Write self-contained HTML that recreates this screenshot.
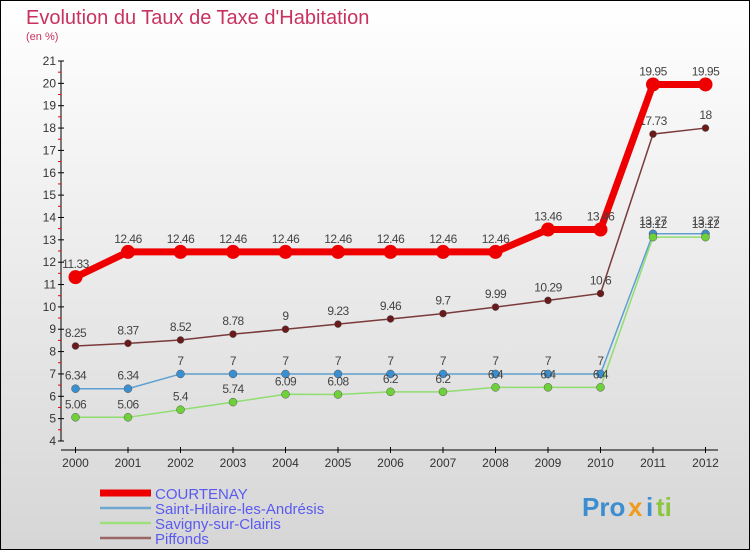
<!DOCTYPE html>
<html><head><meta charset="utf-8"><style>
body{margin:0;width:750px;height:550px;overflow:hidden;font-family:"Liberation Sans",sans-serif}
svg{display:block}
</style></head><body>
<svg id="c" width="750" height="550" xmlns="http://www.w3.org/2000/svg">
<defs><linearGradient id="bg" x1="0" y1="0" x2="0" y2="1"><stop offset="0" stop-color="#ffffff"/><stop offset="1" stop-color="#d6d6d6"/></linearGradient></defs>
<rect x="0.5" y="0.5" width="749" height="549" fill="url(#bg)" stroke="#000"/>
<text x="26" y="24" font-size="20" fill="#c8325f">Evolution du Taux de Taxe d'Habitation</text>
<text x="26" y="40" font-size="11" fill="#c8325f">(en %)</text>
<g id="axes"></g><g id="series"></g><g id="legend"></g>
<g font-size="26" font-weight="bold">
<text x="582" y="516" fill="#3d8ed0">Pro</text><text x="628" y="516" fill="#f09a1e">x</text><text x="646" y="516" fill="#3d8ed0">i</text><text x="656" y="516" fill="#8cc63f">ti</text></g>
</svg>
<script>
const years=[2000,2001,2002,2003,2004,2005,2006,2007,2008,2009,2010,2011,2012];
const yTicks=[4,5,6,7,8,9,10,11,12,13,14,15,16,17,18,19,20,21];
const courtenay=[11.33,12.46,12.46,12.46,12.46,12.46,12.46,12.46,12.46,13.46,13.46,19.95,19.95];
const saintHilaire=[6.34,6.34,7,7,7,7,7,7,7,7,7,13.27,13.27];
const savigny=[5.06,5.06,5.4,5.74,6.09,6.08,6.2,6.2,6.4,6.4,6.4,13.12,13.12];
const piffonds=[8.25,8.37,8.52,8.78,9,9.23,9.46,9.7,9.99,10.29,10.6,17.73,18];
const seriesNames=["COURTENAY","Saint-Hilaire-les-Andrésis","Savigny-sur-Clairis","Piffonds"];
const NS="http://www.w3.org/2000/svg";
const xS=i=>75.5+i*52.5;
const yS=v=>441-(v-4)*(380/17);
function mk(p,t,a){const e=document.createElementNS(NS,t);for(const k in a)e.setAttribute(k,a[k]);p.appendChild(e);return e;}
const ax=document.getElementById('axes');
let l=mk(ax,'line',{x1:61,y1:yS(21),x2:61,y2:yS(4),stroke:'#000'});


l=mk(ax,'line',{x1:61,y1:450,x2:718,y2:450,stroke:'#000'});


yTicks.forEach(v=>{const y=yS(v);
mk(ax,'line',{x1:58,y1:y,x2:64,y2:y,stroke:'#000'});
if(v<21)mk(ax,'line',{x1:58,y1:y-11.2,x2:61,y2:y-11.2,stroke:'#e00'});
const t=mk(ax,'text',{x:56,y:y+4,'font-size':12,'text-anchor':'end',fill:'#333'});t.textContent=v;

});
years.forEach((yr,i)=>{const x=xS(i);mk(ax,'line',{x1:x,y1:447,x2:x,y2:453,stroke:'#000'});
const t=mk(ax,'text',{x:x,y:467,'font-size':12,'text-anchor':'middle',fill:'#333'});t.textContent=yr;

});
const sg=document.getElementById('series');
const defs=[[saintHilaire,'#5fa0d0','#3a8fd0',1.5,4],[savigny,'#90dd70','#6fd13a',1.5,4],[piffonds,'#7a3a3a','#6a1a1a',1.5,3.5],[courtenay,'#ee0000','#ee0000',7,7]];
const names=['saint-hilaire-line','savigny-line','piffonds-line','courtenay-line'];
defs.forEach((d,k)=>{const [vals,lc,pc,w,r]=d;
const pl=mk(sg,'polyline',{points:vals.map((v,i)=>xS(i)+','+yS(v)).join(' '),fill:'none',stroke:lc,'stroke-width':w});


vals.forEach((v,i)=>{const c=mk(sg,'circle',{cx:xS(i),cy:yS(v),r:r,fill:pc,stroke:k<3?'#555':'none','stroke-width':0.5});


const t=mk(sg,'text',{x:xS(i),y:yS(v)-9,'font-size':12,'text-anchor':'middle',fill:'#444','letter-spacing':'-0.5'});t.textContent=v;

});});
const lg=document.getElementById('legend');
const lc2=['#ee0000','#6ea8d0','#9ee07e','#9a6666'],lw=[7,2.5,2.5,2.5],ly=[493,508,523,538];
seriesNames.forEach((n,i)=>{const s=mk(lg,'line',{x1:100,y1:ly[i],x2:151,y2:ly[i],stroke:lc2[i],'stroke-width':lw[i]});


const t=mk(lg,'text',{x:155,y:ly[i]+6,'font-size':15,fill:'#5a5af0'});t.textContent=n;

});
</script>
</body></html>
